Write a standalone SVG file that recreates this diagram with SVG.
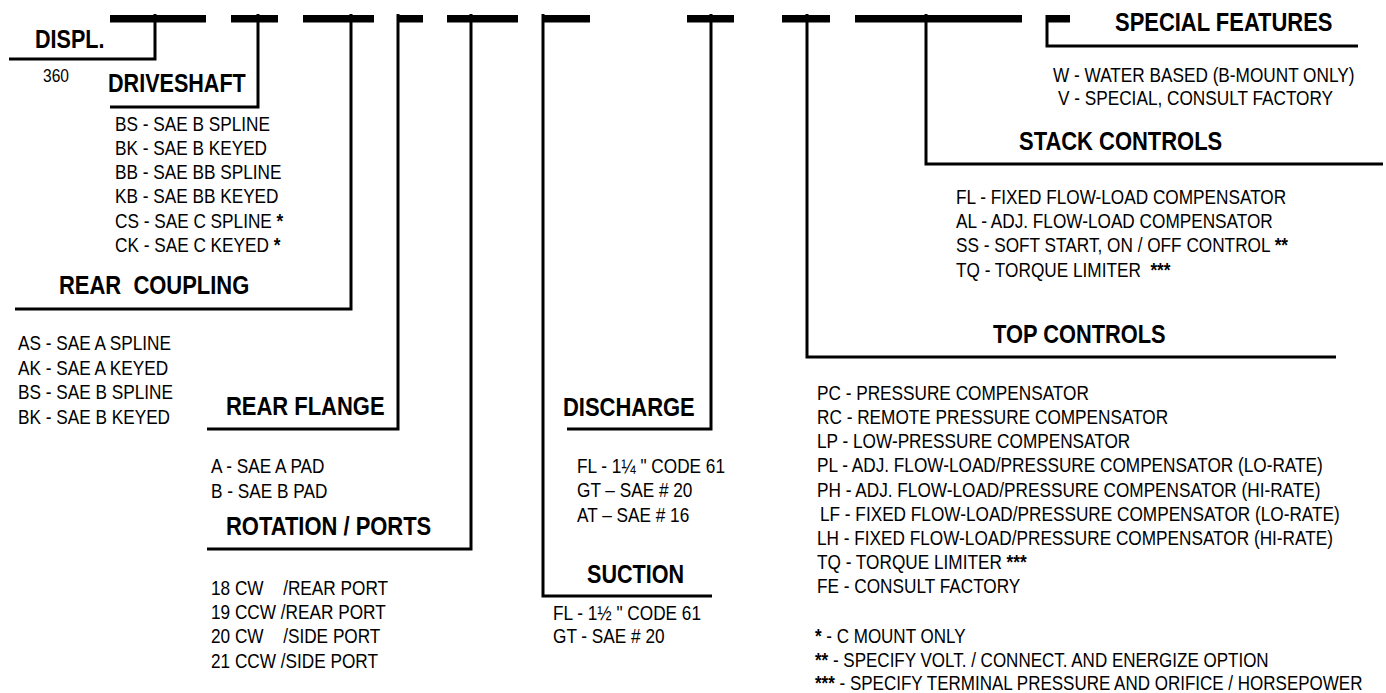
<svg xmlns="http://www.w3.org/2000/svg" width="1386" height="693" viewBox="0 0 1386 693">
<style>
.h{font-family:"Liberation Sans",Arial,sans-serif;font-weight:bold;font-size:26px;fill:#000}
.t{font-family:"Liberation Sans",Arial,sans-serif;font-size:21px;fill:#000}
.b{font-weight:bold}
.c{fill:none;stroke:#000;stroke-width:3;stroke-linejoin:miter}
.bar{fill:#000}
</style>
<rect width="1386" height="693" fill="#fff"/>
<g id="code-bars">
<rect class="bar" x="110" y="15" width="96" height="7.5"/>
<rect class="bar" x="231" y="15" width="47" height="7.5"/>
<rect class="bar" x="303" y="15" width="71" height="7.5"/>
<rect class="bar" x="397" y="15" width="26" height="7.5"/>
<rect class="bar" x="447" y="15" width="71" height="7.5"/>
<rect class="bar" x="542" y="15" width="48" height="7.5"/>
<rect class="bar" x="687" y="15" width="47" height="7.5"/>
<rect class="bar" x="782" y="15" width="48" height="7.5"/>
<rect class="bar" x="855" y="15" width="167" height="7.5"/>
<rect class="bar" x="1046" y="15" width="24" height="7.5"/>
</g>
<g id="connectors">
<path class="c" d="M9,59 H155 V14"/>
<path class="c" d="M110,107 H258 V14"/>
<path class="c" d="M15,309 H351 V14"/>
<path class="c" d="M207,429 H398 V14"/>
<path class="c" d="M207,549 H471 V14"/>
<path class="c" d="M567,429 H711 V14"/>
<path class="c" d="M543,14 V596 H712"/>
<path class="c" d="M807,14 V357 H1336"/>
<path class="c" d="M926,14 V164 H1383"/>
<path class="c" d="M1047,15 V46 H1358"/>
</g>
<g id="displ">
<text class="h" transform="translate(35 48) scale(.83 1)">DISPL.</text>
<text class="t" transform="translate(43 82) scale(.82 1)" style="font-size:19px">360</text>
</g>
<g id="driveshaft">
<text class="h" transform="translate(108 92) scale(.83 1)">DRIVESHAFT</text>
<text class="t" transform="translate(115 131) scale(.82 1)">BS - SAE B SPLINE</text>
<text class="t" transform="translate(115 155) scale(.82 1)">BK - SAE B KEYED</text>
<text class="t" transform="translate(115 179) scale(.82 1)">BB - SAE BB SPLINE</text>
<text class="t" transform="translate(115 203) scale(.82 1)">KB - SAE BB KEYED</text>
<text class="t" transform="translate(115 228) scale(.82 1)">CS - SAE C SPLINE <tspan class="b">*</tspan></text>
<text class="t" transform="translate(115 252) scale(.82 1)">CK - SAE C KEYED <tspan class="b">*</tspan></text>
</g>
<g id="rear-coupling">
<text class="h" transform="translate(59 294) scale(.845 1)" xml:space="preserve">REAR  COUPLING</text>
<text class="t" transform="translate(18 350) scale(.82 1)">AS - SAE A SPLINE</text>
<text class="t" transform="translate(18 375) scale(.82 1)">AK - SAE A KEYED</text>
<text class="t" transform="translate(18 399) scale(.82 1)">BS - SAE B SPLINE</text>
<text class="t" transform="translate(18 424) scale(.82 1)">BK - SAE B KEYED</text>
</g>
<g id="rear-flange">
<text class="h" transform="translate(226 415) scale(.845 1)">REAR FLANGE</text>
<text class="t" transform="translate(211 473) scale(.82 1)">A - SAE A PAD</text>
<text class="t" transform="translate(211 498) scale(.82 1)">B - SAE B PAD</text>
</g>
<g id="rotation-ports">
<text class="h" transform="translate(226 535) scale(.845 1)">ROTATION / PORTS</text>
<text class="t" transform="translate(211 595) scale(.82 1)">18 CW<tspan x="88">/REAR PORT</tspan></text>
<text class="t" transform="translate(211 619) scale(.82 1)">19 CCW /REAR PORT</text>
<text class="t" transform="translate(211 643) scale(.82 1)">20 CW<tspan x="88">/SIDE PORT</tspan></text>
<text class="t" transform="translate(211 668) scale(.82 1)">21 CCW /SIDE PORT</text>
</g>
<g id="discharge">
<text class="h" transform="translate(563 416) scale(.845 1)">DISCHARGE</text>
<text class="t" transform="translate(577 473) scale(.82 1)">FL - 1¼ " CODE 61</text>
<text class="t" transform="translate(577 497) scale(.82 1)">GT – SAE # 20</text>
<text class="t" transform="translate(577 522) scale(.82 1)">AT – SAE # 16</text>
</g>
<g id="suction">
<text class="h" transform="translate(587 583) scale(.83 1)">SUCTION</text>
<text class="t" transform="translate(553 620) scale(.82 1)">FL - 1½ " CODE 61</text>
<text class="t" transform="translate(553 643) scale(.82 1)">GT - SAE # 20</text>
</g>
<g id="top-controls">
<text class="h" transform="translate(993 343) scale(.84 1)">TOP CONTROLS</text>
<text class="t" transform="translate(817 400) scale(.82 1)">PC - PRESSURE COMPENSATOR</text>
<text class="t" transform="translate(817 424) scale(.82 1)">RC - REMOTE PRESSURE COMPENSATOR</text>
<text class="t" transform="translate(817 448) scale(.82 1)">LP - LOW-PRESSURE COMPENSATOR</text>
<text class="t" transform="translate(817 472) scale(.82 1)">PL - ADJ. FLOW-LOAD/PRESSURE COMPENSATOR (LO-RATE)</text>
<text class="t" transform="translate(817 497) scale(.82 1)">PH - ADJ. FLOW-LOAD/PRESSURE COMPENSATOR (HI-RATE)</text>
<text class="t" transform="translate(820 521) scale(.82 1)">LF - FIXED FLOW-LOAD/PRESSURE COMPENSATOR (LO-RATE)</text>
<text class="t" transform="translate(817 545) scale(.82 1)">LH - FIXED FLOW-LOAD/PRESSURE COMPENSATOR (HI-RATE)</text>
<text class="t" transform="translate(817 569) scale(.82 1)">TQ - TORQUE LIMITER <tspan class="b">***</tspan></text>
<text class="t" transform="translate(817 593) scale(.82 1)">FE - CONSULT FACTORY</text>
</g>
<g id="stack-controls">
<text class="h" transform="translate(1019 150) scale(.845 1)">STACK CONTROLS</text>
<text class="t" transform="translate(956 204) scale(.82 1)">FL - FIXED FLOW-LOAD COMPENSATOR</text>
<text class="t" transform="translate(956 228) scale(.82 1)">AL - ADJ. FLOW-LOAD COMPENSATOR</text>
<text class="t" transform="translate(956 252) scale(.82 1)">SS - SOFT START, ON / OFF CONTROL <tspan class="b">**</tspan></text>
<text class="t" transform="translate(956 277) scale(.82 1)" xml:space="preserve">TQ - TORQUE LIMITER  <tspan class="b">***</tspan></text>
</g>
<g id="special-features">
<text class="h" transform="translate(1115 31) scale(.845 1)">SPECIAL FEATURES</text>
<text class="t" transform="translate(1053 82) scale(.82 1)">W - WATER BASED (B-MOUNT ONLY)</text>
<text class="t" transform="translate(1058 105) scale(.82 1)">V - SPECIAL, CONSULT FACTORY</text>
</g>
<g id="footnotes">
<text class="t" transform="translate(815 643) scale(.81 1)"><tspan class="b">*</tspan> - C MOUNT ONLY</text>
<text class="t" transform="translate(815 667) scale(.81 1)"><tspan class="b">**</tspan> - SPECIFY VOLT. / CONNECT. AND ENERGIZE OPTION</text>
<text class="t" transform="translate(815 690) scale(.81 1)"><tspan class="b">***</tspan> - SPECIFY TERMINAL PRESSURE AND ORIFICE / HORSEPOWER</text>
</g>
</svg>
